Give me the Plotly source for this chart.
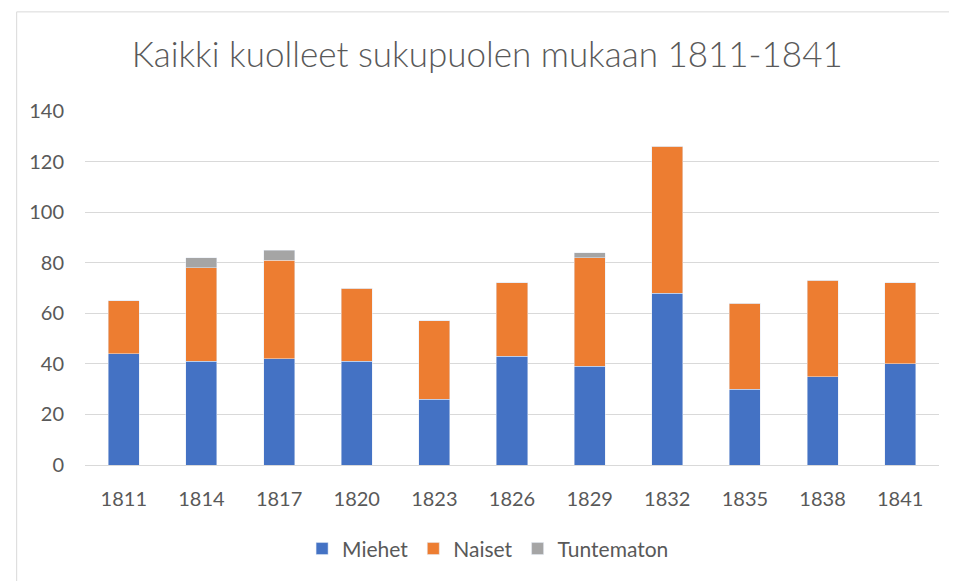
import plotly.graph_objects as go

years = ["1811", "1814", "1817", "1820", "1823", "1826", "1829", "1832", "1835", "1838", "1841"]
miehet = [44, 41, 42, 41, 26, 43, 39, 68, 30, 35, 40]
naiset = [21, 37, 39, 29, 31, 29, 43, 58, 34, 38, 32]
tuntematon = [0, 4, 4, 0, 0, 0, 2, 0, 0, 0, 0]

txt = "#595959"
font = "Lato, Carlito, Calibri, sans-serif"

fig = go.Figure()
fig.add_trace(go.Bar(x=years, y=miehet, name="Miehet", marker_color="#4472C4"))
fig.add_trace(go.Bar(x=years, y=naiset, name="Naiset", marker_color="#ED7D31"))
fig.add_trace(go.Bar(x=years, y=tuntematon, name="Tuntematon", marker_color="#A5A5A5"))

# page body has an 8px margin, so the figure is sized to fit the window
fig.update_layout(
    barmode="stack",
    bargap=0.6,
    width=949,
    height=573,
    margin=dict(l=77, r=18, t=103, b=116),
    paper_bgcolor="white",
    plot_bgcolor="white",
    font=dict(family=font, color=txt, size=20),
    title=dict(
        text="Kaikki kuolleet sukupuolen mukaan 1811-1841",
        x=0.505, xanchor="center", xref="container",
        y=0.918, yanchor="middle", yref="container",
        font=dict(size=35, color=txt, family=font, weight=300),
    ),
    legend=dict(
        orientation="h", x=0.472, xanchor="center", y=-0.237, yanchor="middle",
        font=dict(size=21, color=txt), traceorder="normal",
        itemwidth=30,
    ),
    showlegend=True,
    shapes=[dict(
        type="rect", xref="paper", yref="paper",
        x0=-0.08, x1=1.03, y0=-0.4, y1=1.28,
        line=dict(color="#d9d9d9", width=1), layer="below",
    )],
)
fig.update_xaxes(
    showgrid=False, showline=True, linecolor="#d9d9d9", linewidth=1,
    ticks="", ticklabelstandoff=16, tickfont=dict(size=20, color=txt),
)
fig.update_yaxes(
    range=[0, 140], dtick=20, showgrid=True, gridcolor="#d9d9d9", gridwidth=1,
    zeroline=False, showline=False, ticks="", ticklabelstandoff=20,
    tickfont=dict(size=20, color=txt),
)

fig.write_html("out.html")
